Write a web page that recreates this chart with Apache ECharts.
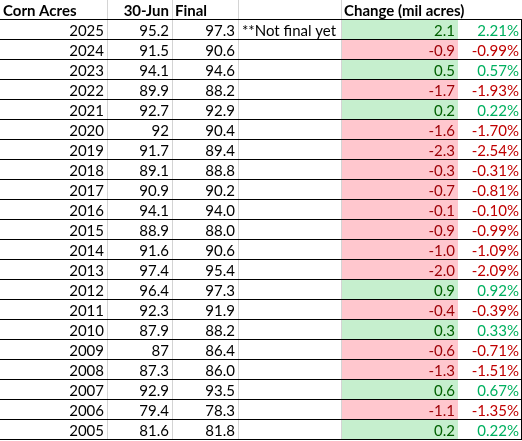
<!DOCTYPE html><html><head><meta charset="utf-8">
<script src="https://cdn.jsdelivr.net/npm/echarts@6/dist/echarts.min.js"></script>
<style>html,body{margin:0;padding:0;background:#fff}#c{width:522px;height:441px}</style></head><body><div id="c"></div>
<script>
var headers = ['Corn Acres','30-Jun','Final','','Change (mil acres)',''];
var years = [2025,2024,2023,2022,2021,2020,2019,2018,2017,2016,2015,2014,2013,2012,2011,2010,2009,2008,2007,2006,2005];
var june = [95.2,91.5,94.1,89.9,92.7,92,91.7,89.1,90.9,94.1,88.9,91.6,97.4,96.4,92.3,87.9,87,87.3,92.9,79.4,81.6];
var finalV = [97.3,90.6,94.6,88.2,92.9,90.4,89.4,88.8,90.2,94.0,88.0,90.6,95.4,97.3,91.9,88.2,86.4,86.0,93.5,78.3,81.8];
var change = [2.1,-0.9,0.5,-1.7,0.2,-1.6,-2.3,-0.3,-0.7,-0.1,-0.9,-1.0,-2.0,0.9,-0.4,0.3,-0.6,-1.3,0.6,-1.1,0.2];
var pct = [2.21,-0.99,0.57,-1.93,0.22,-1.70,-2.54,-0.31,-0.81,-0.10,-0.99,-1.09,-2.09,0.92,-0.39,0.33,-0.71,-1.51,0.67,-1.35,0.22];
var notes = ['**Not final yet'];

var edges = [0,107,172,238,341,458,521];
var font = '15px Lato, "Liberation Sans", sans-serif';
var cats = ['header'].concat(years.map(String));
var chart = echarts.init(document.getElementById('c'));
function txt(x, y, s, align, color, bold){
  return {type:'text', style:{x:x, y:y, text:s, align:align, verticalAlign:'middle', fill:color, font:(bold?'bold ':'')+font}};
}
chart.setOption({
  animation:false,
  grid:{left:0,right:0,top:0,bottom:1},
  xAxis:{type:'value',min:0,max:522,show:false},
  yAxis:{type:'category',data:cats,inverse:true,show:false},
  series:[{
    type:'custom',
    data:cats.map(function(c,i){return [0,i];}),
    renderItem:function(params, api){
      var i = api.value(1);
      var c = api.coord([0, i]);
      var h = api.size([0,1])[1];
      var top = c[1]-h/2, bot = c[1]+h/2, mid = c[1]+1;
      var X = function(v){return api.coord([v,i])[0];};
      var els = [];
      if (i === 0) {
        els.push(txt(X(3),mid,headers[0],'left','#000',true));
        els.push(txt(X(169),mid,headers[1],'right','#000',true));
        els.push(txt(X(175),mid,headers[2],'left','#000',true));
        els.push(txt(X(344),mid,headers[4],'left','#000',true));
        [107,172,238,341].forEach(function(e){els.push({type:'line',shape:{x1:X(e)+0.5,y1:top,x2:X(e)+0.5,y2:bot},style:{stroke:'#d4d4d4',lineWidth:1}});});
        els.push({type:'line',shape:{x1:0,y1:bot-0.5,x2:522,y2:bot-0.5},style:{stroke:'#000',lineWidth:1}});
        return {type:'group',children:els};
      }
      var k = i-1, pos = change[k] >= 0;
      els.push({type:'rect',shape:{x:X(341)+1,y:top,width:X(458)-X(341)-1,height:h},style:{fill:pos?'#c6efce':'#ffc7ce'}});
      [107,172,238,341].forEach(function(e){els.push({type:'line',shape:{x1:X(e)+0.5,y1:top,x2:X(e)+0.5,y2:bot},style:{stroke:'#d4d4d4',lineWidth:1}});});
      els.push({type:'line',shape:{x1:X(521)+0.5,y1:top,x2:X(521)+0.5,y2:bot},style:{stroke:'#000',lineWidth:1}});
      els.push({type:'line',shape:{x1:0,y1:bot-0.5,x2:522,y2:bot-0.5},style:{stroke:'#000',lineWidth:1}});
      els.push(txt(X(104),mid,String(years[k]),'right','#000'));
      els.push(txt(X(169),mid,String(june[k]),'right','#000'));
      els.push(txt(X(235),mid,finalV[k].toFixed(1),'right','#000'));
      if (notes[k]) els.push(txt(X(242),mid,notes[k],'left','#000'));
      els.push(txt(X(455),mid,change[k].toFixed(1),'right',pos?'#006100':'#9c0006'));
      els.push(txt(X(519),mid,pct[k].toFixed(2)+'%','right',pos?'#00b060':'#c00000'));
      return {type:'group',children:els};
    }
  }]
});
</script></body></html>
